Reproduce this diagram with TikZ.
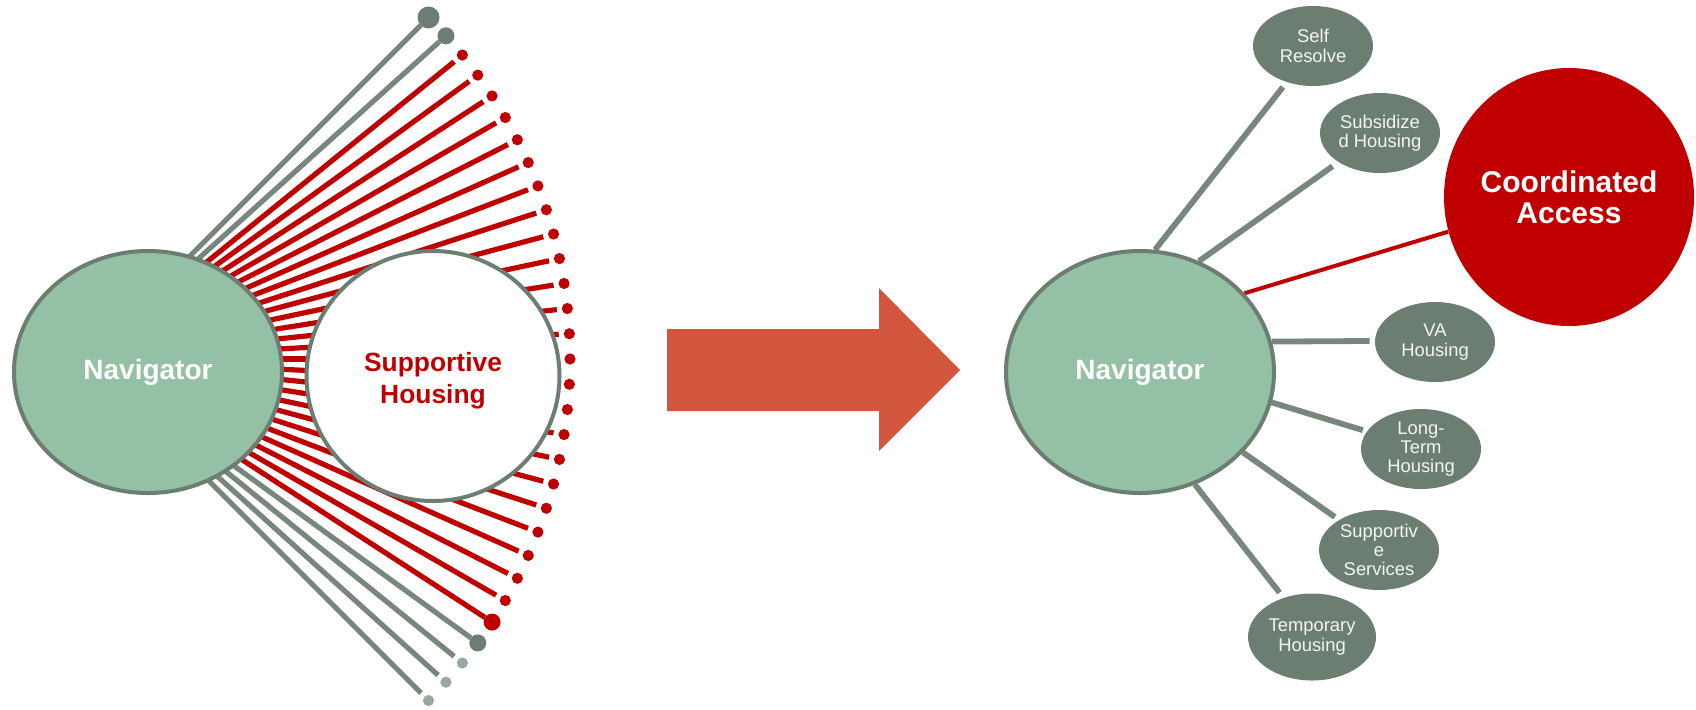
\documentclass[tikz,border=0pt]{standalone}
\usepackage{fontspec}
\setmainfont{Liberation Sans}
\usetikzlibrary{shapes.geometric,calc}
\definecolor{navfill}{HTML}{94C0A5}
\definecolor{navline}{HTML}{6C7E72}
\definecolor{linegray}{HTML}{77877C}
\definecolor{satfill}{HTML}{6C7E72}
\definecolor{hred}{HTML}{C00000}
\definecolor{lgray}{HTML}{97A99D}
\definecolor{arrowc}{HTML}{D2553D}
\definecolor{sattext}{HTML}{F4F4F4}
\pgfdeclarelayer{bg}
\pgfsetlayers{bg,main}
\begin{document}
\begin{tikzpicture}[x=0.5pt,y=-0.5pt,
  navnode/.style={ellipse, draw=navline, line width=2pt, fill=navfill,
    minimum width=134pt, minimum height=121pt, inner sep=0pt, text=white,
    font=\bfseries\fontsize{14}{16.8}\selectfont},
  shnode/.style={ellipse, draw=navline, line width=2pt, fill=white,
    minimum width=126.5pt, minimum height=125pt, inner sep=0pt},
  shtext/.style={inner sep=0pt, text=hred, align=center,
    font=\bfseries\fontsize{13.2}{16.2}\selectfont},
  canode/.style={ellipse, fill=hred, minimum width=125pt, minimum height=129pt,
    inner sep=0pt, text=white, align=center,
    font=\bfseries\fontsize{15}{15.5}\selectfont},
  satnode/.style={ellipse, fill=satfill, minimum width=60pt, minimum height=40pt,
    inner sep=0pt, text=sattext, align=center,
    font=\fontsize{9.2}{9.7}\selectfont},
  fang/.style={draw=linegray, line width=2.6pt},
  fanr/.style={draw=hred, line width=2.6pt},
  conng/.style={draw=linegray, line width=2.9pt},
  connr/.style={draw=hred, line width=2pt},
  dotbase/.style={circle, inner sep=0pt, outer sep=0pt},
  gdotbig/.style={dotbase, fill=navline, minimum size=11pt},
  gdotmid/.style={dotbase, fill=navline, minimum size=8.5pt},
  rdot/.style={dotbase, fill=hred, minimum size=5.6pt},
  rdotbig/.style={dotbase, fill=hred, minimum size=8.5pt},
  ldot/.style={dotbase, fill=lgray, minimum size=5.6pt}
]
\useasboundingbox (0,0) rectangle (1696,709);

% ---------- left: fan ----------
\coordinate (fanO) at (87,359);
\node[gdotbig] (d0) at ({87+483*cos(45)},{359-483*sin(45)}) {};
\node[gdotmid] (d1) at ({87+483*cos(42)},{359-483*sin(42)}) {};
\foreach \i in {2,...,25}
  \node[rdot] (d\i) at ({87+483*cos(45-3*\i)},{359-483*sin(45-3*\i)}) {};
\node[rdotbig] (d26) at ({87+483*cos(-33)},{359-483*sin(-33)}) {};
\node[gdotmid] (d27) at ({87+483*cos(-36)},{359-483*sin(-36)}) {};
\foreach \i in {28,29,30}
  \node[ldot] (d\i) at ({87+483*cos(45-3*\i)},{359-483*sin(45-3*\i)}) {};

\node[navnode] (navL) at (148,372) {Navigator};
\node[shnode] (sh) at (433,376) {};
\node[shtext] (shlabel) at (433,381) {Supportive\\Housing};

\begin{pgfonlayer}{bg}
  \draw[fang] (fanO) -- (d0);
  \draw[fang] (fanO) -- (d1);
  \foreach \i in {2,...,25}
    \draw[fanr, shorten >=2.5pt] (fanO) -- (d\i);
  \draw[fanr] (fanO) -- (d26);
  \draw[fang] (fanO) -- (d27);
  \foreach \i in {28,29,30}
    \draw[fang, shorten >=2.5pt] (fanO) -- (d\i);
\end{pgfonlayer}

% ---------- arrow ----------
\fill[arrowc] (667,329) -- (879,329) -- (879,288) -- (960,370) -- (879,451)
  -- (879,411) -- (667,411) -- cycle;

% ---------- right ----------
\node[navnode] (navR) at (1140,372) {Navigator};
\node[satnode] (sr) at (1313,46) {Self\\Resolve};
\node[satnode] (sub) at (1380,133) {Subsidize\\d Housing};
\node[canode] (ca) at (1569,197) {Coordinated\\Access};
\node[satnode] (va) at (1435,342) {VA\\Housing};
\node[satnode] (lt) at (1421,449) {Long-\\Term\\Housing};
\node[satnode] (ss) at (1379,550) {Supportiv\\e\\Services};
\node[satnode, minimum width=64pt, minimum height=43.5pt] (th) at (1312,637) {Temporary\\Housing};

\begin{pgfonlayer}{bg}
  \draw[conng, shorten >=3pt] (navR.83) -- (sr.234);
  \draw[conng, shorten >=3.5pt] (navR.62) -- (sub.215);
  \draw[connr] (navR.37) -- (ca.196);
  \draw[conng, shorten >=2.5pt] (navR.13) -- (va.179);
  \draw[conng, shorten >=2pt] (navR.347) -- (lt.162);
  \draw[conng, shorten >=2.5pt] (navR.322) -- (ss.143);
  \draw[conng, shorten >=3.2pt] (navR.296) -- (th.126);
\end{pgfonlayer}
\end{tikzpicture}
\end{document}
